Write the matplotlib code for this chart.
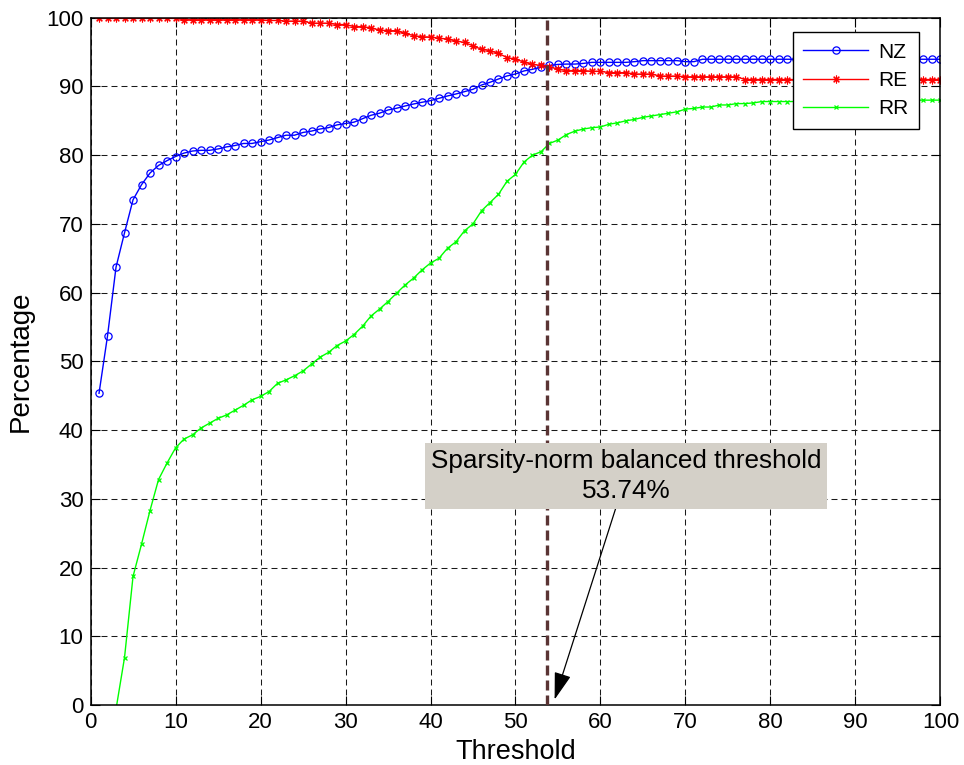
import matplotlib
matplotlib.use("Agg")
import matplotlib.pyplot as plt
import numpy as np

plt.rcParams['font.family'] = ['Liberation Sans', 'DejaVu Sans']
plt.rcParams['lines.scale_dashes'] = False

threshold = list(range(1, 101))

nz = [45.35, 53.7, 63.7, 68.7, 73.5, 75.7, 77.4, 78.5, 79.2, 79.8,
      80.3, 80.6, 80.7, 80.7, 80.9, 81.2, 81.4, 81.7, 81.7, 81.96,
      82.2, 82.55, 82.9, 82.9, 83.3, 83.5, 83.8, 84.0, 84.4, 84.6,
      84.8, 85.3, 85.8, 86.1, 86.57, 86.82, 87.15, 87.44, 87.69, 87.93,
      88.27, 88.61, 88.9, 89.24, 89.58, 90.2, 90.6, 91.08, 91.52, 91.81,
      92.25, 92.49, 92.8, 93.05, 93.2, 93.25, 93.25, 93.35, 93.5, 93.5,
      93.5, 93.5, 93.5, 93.6, 93.75, 93.75, 93.75, 93.75, 93.75, 93.6,
      93.6, 93.95, 93.95, 93.95, 93.95, 93.95, 93.95, 93.95, 93.95, 93.95,
      93.95, 93.95, 93.95, 93.95, 93.95, 93.95, 93.95, 93.95, 93.95, 93.95,
      93.95, 93.95, 93.95, 93.95, 93.95, 93.95, 93.95, 93.95, 93.95, 93.95]

re = [99.9, 99.9, 99.9, 99.9, 99.9, 99.9, 99.9, 99.9, 99.9, 99.9,
      99.7, 99.7, 99.7, 99.7, 99.7, 99.7, 99.7, 99.7, 99.7, 99.7,
      99.6, 99.6, 99.5, 99.5, 99.5, 99.2, 99.2, 99.2, 99.0, 99.0,
      98.7, 98.7, 98.5, 98.2, 98.1, 98.1, 97.7, 97.4, 97.2, 97.2,
      97.0, 96.9, 96.6, 96.4, 95.9, 95.4, 95.2, 94.8, 94.2, 93.95,
      93.55, 93.2, 93.05, 92.85, 92.5, 92.3, 92.3, 92.3, 92.2, 92.2,
      92.0, 92.0, 92.0, 91.8, 91.8, 91.8, 91.5, 91.5, 91.5, 91.4,
      91.4, 91.4, 91.4, 91.4, 91.4, 91.4, 91.0, 91.0, 91.0, 91.0,
      91.0, 91.0, 91.0, 91.0, 91.0, 91.0, 91.0, 91.0, 91.0, 91.0,
      91.0, 91.0, 91.0, 91.0, 91.0, 91.0, 91.0, 91.0, 91.0, 91.0]

rr_threshold = list(range(3, 101))
rr = [-0.6, 6.9, 18.7, 23.4, 28.3, 32.8, 35.2, 37.4,
      38.7, 39.3, 40.3, 41.0, 41.7, 42.2, 42.9, 43.6, 44.4, 44.9,
      45.6, 46.8, 47.3, 47.9, 48.6, 49.6, 50.6, 51.3, 52.3, 52.95,
      53.9, 55.1, 56.6, 57.6, 58.7, 59.9, 61.1, 62.1, 63.3, 64.3,
      65.0, 66.45, 67.4, 69.0, 70.0, 71.9, 73.1, 74.3, 76.2, 77.2,
      79.0, 80.0, 80.5, 81.7, 82.2, 83.0, 83.5, 83.8, 84.0, 84.1,
      84.5, 84.7, 85.0, 85.2, 85.5, 85.7, 85.9, 86.1, 86.3, 86.7,
      86.8, 87.0, 87.0, 87.3, 87.3, 87.5, 87.5, 87.6, 87.8, 87.8,
      87.8, 87.8, 87.8, 87.8, 87.8, 87.8, 87.8, 87.8, 87.8, 87.9,
      87.9, 87.9, 87.9, 87.9, 88.0, 88.0, 88.0, 88.0, 88.0, 88.0]

balanced = 53.74
note_text = "Sparsity-norm balanced threshold\n53.74%"

fig = plt.figure(figsize=(9.64, 7.65), dpi=100)
ax = fig.add_axes([0.0939, 0.0784, 0.8817, 0.8985])

ax.plot(threshold, nz, color='#0000ff', lw=1.0, marker='o', ms=5.2,
        mfc='none', mew=0.9, label='NZ')
ax.plot(threshold, re, color='#ff0000', lw=1.0, marker=(8, 2, 0), ms=5.6,
        mew=0.8, label='RE')
ax.plot(rr_threshold, rr, color='#00ff00', lw=1.0, marker='x', ms=3.2,
        mew=0.9, label='RR')

ax.axvline(balanced, color='#5a3434', lw=2.4, dashes=(7.2, 3.6), zorder=3)

ax.set_xlim(0, 100)
ax.set_ylim(0, 100)
ax.set_xticks(np.arange(0, 101, 10))
ax.set_yticks(np.arange(0, 101, 10))
ax.tick_params(direction='in', length=6.5, width=0.8, top=True, right=True,
               labelsize=16, pad=5)
for s in ax.spines.values():
    s.set_linewidth(1.1)

ax.grid(True, color='#1a1a1a', lw=0.75, dashes=(4.3, 2.9))
ax.set_axisbelow(True)

ax.set_xlabel('Threshold', fontsize=19.5, labelpad=4)
ax.set_ylabel('Percentage', fontsize=20, labelpad=9)

ax.annotate(note_text, xy=(54.6, 0.8), xytext=(63.0, 33.3),
            ha='center', va='center', fontsize=18.8, linespacing=1.32,
            bbox=dict(boxstyle='square,pad=0.22', fc='#d4d0c8', ec='none'),
            arrowprops=dict(arrowstyle='-|>,head_length=0.9,head_width=0.28',
                            color='black', lw=0.9, shrinkA=0, shrinkB=0),
            zorder=5)

leg = ax.legend(loc='upper right', bbox_to_anchor=(0.9747, 0.9788),
                borderaxespad=0, fontsize=15, handlelength=3.1,
                labelspacing=0.45, fancybox=False, framealpha=1,
                edgecolor='black', borderpad=0.5, handletextpad=0.5)
leg.get_frame().set_linewidth(1.0)

fig.savefig('out.png', dpi=100)
